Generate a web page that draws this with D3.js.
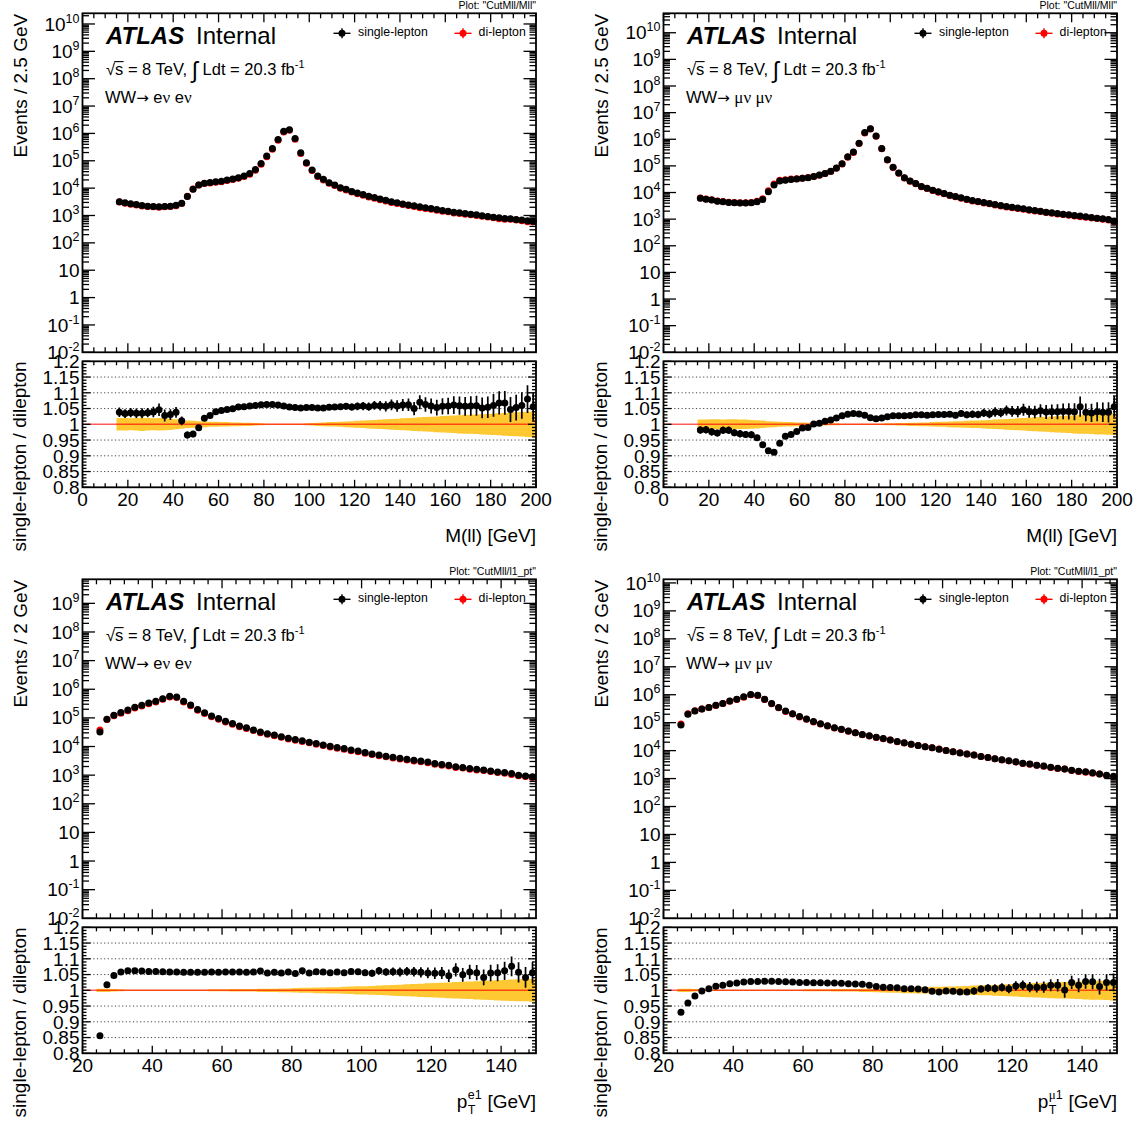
<!DOCTYPE html>
<html>
<head>
<meta charset="utf-8">
<script src="https://cdn.jsdelivr.net/npm/d3@7"></script>
<style>
  body { margin: 0; background: #fff; }
  svg text { font-family: "Liberation Sans", Arial, Helvetica, sans-serif; fill: #000; }
</style>
</head>
<body>
<svg id="c" width="1144" height="1124"></svg>
<script>
// ---------------- binning ----------------
const mllLow = 15, mllWidth = 2.5;   // M(ll): 2.5 GeV bins from 15 GeV
const ptLow = 24, ptWidth = 2;       // leading-lepton pT: 2 GeV bins from 24 GeV

// ---------------- WW -> e nu e nu, M(ll) ----------------
const eeMllSingle = [3200, 2900, 2700, 2500, 2300, 2200, 2150, 2100, 2150, 2200,
  2350, 2800, 4900, 9100, 13000, 15000, 16000, 17000, 18000, 20000,
  21500, 24000, 28000, 34000, 48000, 80000, 148000, 280000, 600000, 1200000,
  1370000, 650000, 195000, 85000, 46000, 28000, 21000, 15800, 13100, 10400,
  9100, 7600, 6600, 5800, 5000, 4500, 4000, 3600, 3200, 2900,
  2650, 2440, 2250, 2070, 1900, 1800, 1650, 1520, 1440, 1320,
  1250, 1180, 1120, 1060, 980, 920, 870, 820, 780, 760,
  715, 680, 640, 620];
const eeMllRatio = [1.038, 1.034, 1.037, 1.035, 1.035, 1.037, 1.039, 1.046, 1.028, 1.031,
  1.038, 1.011, 0.966, 0.969, 0.989, 1.019, 1.028, 1.040, 1.044, 1.047,
  1.049, 1.055, 1.056, 1.058, 1.060, 1.062, 1.063, 1.063, 1.061, 1.058,
  1.055, 1.053, 1.052, 1.053, 1.053, 1.052, 1.052, 1.054, 1.055, 1.056,
  1.057, 1.055, 1.057, 1.058, 1.056, 1.060, 1.059, 1.057, 1.062, 1.058,
  1.061, 1.062, 1.050, 1.070, 1.063, 1.058, 1.053, 1.057, 1.058, 1.061,
  1.059, 1.057, 1.058, 1.059, 1.052, 1.054, 1.060, 1.068, 1.068, 1.047,
  1.053, 1.060, 1.080, 1.056];
const eeMllRatioErr = [0.015, 0.014, 0.015, 0.015, 0.016, 0.015, 0.017, 0.020, 0.019, 0.017,
  0.017, 0.014, 0.011, 0.010, 0.007, 0.006, 0.005, 0.004, 0.004, 0.003,
  0.003, 0.003, 0.003, 0.002, 0.002, 0.002, 0.002, 0.002, 0.002, 0.002,
  0.002, 0.002, 0.003, 0.004, 0.005, 0.006, 0.007, 0.008, 0.008, 0.009,
  0.010, 0.011, 0.012, 0.013, 0.013, 0.014, 0.015, 0.016, 0.017, 0.018,
  0.019, 0.020, 0.021, 0.022, 0.023, 0.024, 0.025, 0.026, 0.026, 0.028,
  0.029, 0.030, 0.031, 0.032, 0.033, 0.034, 0.036, 0.037, 0.038, 0.040,
  0.041, 0.042, 0.044, 0.045];
const eeMllBand = [0.020, 0.020, 0.019, 0.020, 0.021, 0.020, 0.019, 0.020, 0.019, 0.018,
  0.016, 0.014, 0.012, 0.011, 0.010, 0.009, 0.008, 0.008, 0.007, 0.007,
  0.006, 0.006, 0.005, 0.005, 0.004, 0.003, 0.002, 0.002, 0.002, 0.002,
  0.002, 0.002, 0.002, 0.003, 0.004, 0.005, 0.006, 0.007, 0.007, 0.008,
  0.009, 0.010, 0.011, 0.012, 0.013, 0.014, 0.015, 0.016, 0.017, 0.018,
  0.019, 0.020, 0.021, 0.022, 0.023, 0.024, 0.025, 0.026, 0.027, 0.028,
  0.029, 0.030, 0.030, 0.031, 0.032, 0.033, 0.034, 0.035, 0.036, 0.037,
  0.038, 0.039, 0.040, 0.041];

// ---------------- WW -> mu nu mu nu, M(ll) ----------------
const mmMllSingle = [6100, 5600, 5200, 4700, 4500, 4200, 4100, 4000, 4000, 4100,
  4500, 5500, 10700, 19000, 27000, 29000, 31000, 32000, 34000, 36000,
  40000, 45000, 52000, 63000, 84000, 120000, 220000, 330000, 710000, 1780000,
  2500000, 1330000, 450000, 170000, 89000, 54000, 36000, 27000, 22000, 17000,
  14500, 12200, 10600, 9200, 7900, 7100, 6300, 5600, 5000, 4600,
  4200, 3900, 3550, 3250, 2980, 2800, 2600, 2440, 2240, 2100,
  2000, 1830, 1730, 1630, 1540, 1450, 1370, 1300, 1220, 1150,
  1090, 1030, 970, 850];
const mmMllRatio = [0.982, 0.983, 0.976, 0.972, 0.981, 0.981, 0.973, 0.970, 0.968, 0.967,
  0.957, 0.935, 0.916, 0.911, 0.940, 0.962, 0.968, 0.977, 0.988, 0.990,
  1.001, 1.003, 1.010, 1.014, 1.020, 1.027, 1.032, 1.034, 1.033, 1.029,
  1.021, 1.018, 1.020, 1.024, 1.027, 1.027, 1.027, 1.028, 1.030, 1.030,
  1.029, 1.030, 1.031, 1.031, 1.032, 1.029, 1.034, 1.030, 1.032, 1.031,
  1.036, 1.033, 1.039, 1.037, 1.044, 1.041, 1.040, 1.046, 1.040, 1.039,
  1.043, 1.039, 1.040, 1.040, 1.041, 1.041, 1.040, 1.056, 1.038, 1.036,
  1.040, 1.038, 1.038, 1.056];
const mmMllRatioErr = [0.012, 0.012, 0.012, 0.011, 0.012, 0.012, 0.011, 0.012, 0.011, 0.011,
  0.010, 0.009, 0.007, 0.006, 0.005, 0.004, 0.004, 0.003, 0.003, 0.003,
  0.002, 0.002, 0.002, 0.002, 0.002, 0.002, 0.002, 0.002, 0.002, 0.002,
  0.002, 0.002, 0.002, 0.003, 0.003, 0.004, 0.004, 0.005, 0.005, 0.006,
  0.006, 0.007, 0.008, 0.008, 0.009, 0.010, 0.010, 0.011, 0.012, 0.012,
  0.013, 0.014, 0.015, 0.015, 0.016, 0.017, 0.018, 0.019, 0.019, 0.020,
  0.021, 0.022, 0.023, 0.024, 0.025, 0.026, 0.027, 0.032, 0.028, 0.029,
  0.030, 0.031, 0.032, 0.034];
const mmMllBand = [0.015, 0.015, 0.016, 0.016, 0.015, 0.016, 0.016, 0.015, 0.015, 0.014,
  0.013, 0.012, 0.010, 0.009, 0.008, 0.007, 0.007, 0.006, 0.006, 0.005,
  0.005, 0.004, 0.004, 0.003, 0.003, 0.002, 0.002, 0.002, 0.002, 0.002,
  0.002, 0.002, 0.002, 0.003, 0.003, 0.004, 0.004, 0.005, 0.005, 0.006,
  0.006, 0.007, 0.008, 0.008, 0.009, 0.010, 0.010, 0.011, 0.012, 0.012,
  0.013, 0.014, 0.015, 0.016, 0.017, 0.018, 0.019, 0.020, 0.021, 0.022,
  0.023, 0.024, 0.025, 0.026, 0.027, 0.028, 0.029, 0.030, 0.030, 0.031,
  0.032, 0.032, 0.033, 0.034];

// ---------------- WW -> e nu e nu, leading-lepton pT ----------------
const eePtSingle = [32000, 89000, 123000, 154000, 187000, 237000, 277000, 330000, 380000, 470000,
  570000, 540000, 380000, 280000, 195000, 150000, 117000, 95000, 76000, 63000,
  52000, 45000, 38000, 32000, 28000, 25000, 22000, 19500, 17500, 15800,
  14200, 12700, 11400, 10200, 9200, 8500, 7600, 6900, 6200, 5500,
  5100, 4600, 4200, 3900, 3600, 3300, 3100, 2850, 2550, 2350,
  2200, 1950, 1850, 1700, 1600, 1500, 1400, 1300, 1240, 1140,
  1000, 930, 875];
const eePtRatio = [0.856, 1.018, 1.047, 1.058, 1.062, 1.062, 1.061, 1.060, 1.060, 1.059,
  1.058, 1.058, 1.057, 1.057, 1.057, 1.057, 1.058, 1.057, 1.058, 1.058,
  1.058, 1.057, 1.058, 1.061, 1.055, 1.057, 1.055, 1.058, 1.053, 1.062,
  1.055, 1.059, 1.058, 1.056, 1.058, 1.056, 1.060, 1.059, 1.056, 1.054,
  1.062, 1.058, 1.059, 1.058, 1.060, 1.059, 1.057, 1.055, 1.054, 1.055,
  1.046, 1.065, 1.049, 1.058, 1.056, 1.041, 1.055, 1.056, 1.062, 1.076,
  1.057, 1.041, 1.056];
const eePtRatioErr = [0.002, 0.002, 0.002, 0.002, 0.002, 0.002, 0.002, 0.002, 0.002, 0.002,
  0.002, 0.002, 0.002, 0.002, 0.002, 0.002, 0.002, 0.002, 0.002, 0.003,
  0.003, 0.003, 0.003, 0.003, 0.004, 0.004, 0.004, 0.005, 0.005, 0.005,
  0.006, 0.006, 0.007, 0.007, 0.008, 0.008, 0.009, 0.009, 0.010, 0.011,
  0.012, 0.012, 0.013, 0.014, 0.014, 0.015, 0.016, 0.017, 0.018, 0.019,
  0.020, 0.021, 0.022, 0.023, 0.024, 0.025, 0.026, 0.027, 0.029, 0.031,
  0.032, 0.033, 0.034];
const eePtBand = [0.005, 0.005, 0.004, 0.003, 0.002, 0.002, 0.002, 0.002, 0.002, 0.002,
  0.002, 0.002, 0.002, 0.002, 0.002, 0.002, 0.003, 0.003, 0.003, 0.004,
  0.004, 0.004, 0.004, 0.005, 0.005, 0.005, 0.006, 0.006, 0.007, 0.008,
  0.008, 0.009, 0.009, 0.010, 0.010, 0.011, 0.012, 0.013, 0.013, 0.014,
  0.015, 0.016, 0.017, 0.018, 0.019, 0.020, 0.021, 0.022, 0.023, 0.024,
  0.025, 0.026, 0.027, 0.028, 0.029, 0.030, 0.031, 0.032, 0.033, 0.034,
  0.035, 0.035, 0.036];

// ---------------- WW -> mu nu mu nu, leading-lepton pT ----------------
const mmPtSingle = [83000, 200000, 260000, 310000, 350000, 420000, 490000, 600000, 690000, 840000,
  1020000, 960000, 690000, 490000, 350000, 260000, 210000, 165000, 135000, 109000,
  92000, 78000, 66000, 58000, 50000, 44000, 38000, 34000, 30000, 27000,
  24000, 21000, 19000, 17000, 15400, 13700, 12600, 11300, 10000, 9100,
  8300, 7500, 6900, 6200, 5700, 5100, 4700, 4300, 4000, 3550,
  3300, 3000, 2800, 2550, 2350, 2200, 2000, 1830, 1740, 1600,
  1470, 1320, 1200];
const mmPtRatio = [0.930, 0.960, 0.982, 0.998, 1.005, 1.013, 1.016, 1.021, 1.023, 1.026,
  1.028, 1.028, 1.029, 1.029, 1.028, 1.027, 1.026, 1.025, 1.025, 1.024,
  1.024, 1.023, 1.023, 1.022, 1.021, 1.020, 1.019, 1.016, 1.012, 1.010,
  1.009, 1.008, 1.005, 1.005, 1.004, 1.002, 0.997, 0.995, 0.998, 0.997,
  0.995, 0.995, 0.998, 1.004, 1.007, 1.006, 1.009, 1.005, 1.014, 1.016,
  1.010, 1.010, 1.010, 1.016, 1.016, 1.001, 1.025, 1.016, 1.028, 1.027,
  1.012, 1.025, 1.025];
const mmPtRatioErr = [0.002, 0.002, 0.002, 0.002, 0.002, 0.002, 0.002, 0.002, 0.002, 0.002,
  0.002, 0.002, 0.002, 0.002, 0.002, 0.002, 0.002, 0.002, 0.002, 0.002,
  0.002, 0.002, 0.002, 0.003, 0.003, 0.003, 0.004, 0.004, 0.004, 0.005,
  0.005, 0.005, 0.006, 0.006, 0.007, 0.007, 0.008, 0.008, 0.009, 0.009,
  0.010, 0.010, 0.011, 0.011, 0.012, 0.013, 0.013, 0.014, 0.015, 0.015,
  0.016, 0.017, 0.018, 0.019, 0.020, 0.025, 0.021, 0.022, 0.023, 0.024,
  0.025, 0.026, 0.028];
const mmPtBand = [0.005, 0.005, 0.004, 0.003, 0.002, 0.002, 0.002, 0.002, 0.002, 0.002,
  0.002, 0.002, 0.002, 0.002, 0.002, 0.002, 0.002, 0.002, 0.003, 0.003,
  0.003, 0.003, 0.004, 0.004, 0.004, 0.004, 0.005, 0.005, 0.006, 0.007,
  0.008, 0.008, 0.009, 0.009, 0.010, 0.010, 0.011, 0.011, 0.012, 0.012,
  0.013, 0.014, 0.015, 0.016, 0.016, 0.017, 0.018, 0.019, 0.020, 0.021,
  0.022, 0.023, 0.024, 0.025, 0.026, 0.026, 0.027, 0.028, 0.029, 0.030,
  0.030, 0.031, 0.032];

// ---------------- axis labels ----------------
const ratioTickValues = [0.8, 0.85, 0.9, 0.95, 1, 1.05, 1.1, 1.15, 1.2];
const ratioTickLabels = ["0.8", "0.85", "0.9", "0.95", "1", "1.05", "1.1", "1.15", "1.2"];
const ratioGridValues = [0.85, 0.9, 0.95, 1.05, 1.1, 1.15];
const legendLabels = ["single-lepton", "di-lepton"];

// ---------------- layout ----------------
const COL_DX = 581, ROW_DY = 566;
const F = { left: 82.5, right: 536, mainTop: 13.3, mainBot: 352.3, ratTop: 361.3, ratBot: 487.3 };
const BAND = "#fec832", RED = "#ff0000";
const serif = '"Liberation Serif", "DejaVu Serif", serif';

const panels = [
  { col: 0, row: 0, plot: 'Plot: "CutMll/Mll"', yTitle: "Events / 2.5 GeV", chan: "e", xVar: "mll",
    xDomain: [0, 200], xMajor: 20, xMinor: 5, lo: mllLow, w: mllWidth, logTop: 10.39,
    single: eeMllSingle, ratio: eeMllRatio, err: eeMllRatioErr, band: eeMllBand },
  { col: 1, row: 0, plot: 'Plot: "CutMll/Mll"', yTitle: "Events / 2.5 GeV", chan: "mu", xVar: "mll",
    xDomain: [0, 200], xMajor: 20, xMinor: 5, lo: mllLow, w: mllWidth, logTop: 10.73,
    single: mmMllSingle, ratio: mmMllRatio, err: mmMllRatioErr, band: mmMllBand },
  { col: 0, row: 1, plot: 'Plot: "CutMll/l1_pt"', yTitle: "Events / 2 GeV", chan: "e", xVar: "pt",
    xDomain: [20, 150], xMajor: 20, xMinor: 4, lo: ptLow, w: ptWidth, logTop: 9.84,
    single: eePtSingle, ratio: eePtRatio, err: eePtRatioErr, band: eePtBand },
  { col: 1, row: 1, plot: 'Plot: "CutMll/l1_pt"', yTitle: "Events / 2 GeV", chan: "mu", xVar: "pt",
    xDomain: [20, 150], xMajor: 20, xMinor: 4, lo: ptLow, w: ptWidth, logTop: 10.13,
    single: mmPtSingle, ratio: mmPtRatio, err: mmPtRatioErr, band: mmPtBand }
];

const svg = d3.select("#c");

function line(g, x1, y1, x2, y2, w, col) {
  return g.append("line").attr("x1", x1).attr("y1", y1).attr("x2", x2).attr("y2", y2)
    .attr("stroke", col || "#000").attr("stroke-width", w || 1.3);
}

function drawPanel(p) {
  const g = svg.append("g").attr("transform", `translate(${p.col * COL_DX},${p.row * ROW_DY})`);
  const x = d3.scaleLinear().domain(p.xDomain).range([F.left, F.right]);
  const y = d3.scaleLog().domain([1e-2, Math.pow(10, p.logTop)]).range([F.mainBot, F.mainTop]);
  const yr = d3.scaleLinear().domain([0.8, 1.2]).range([F.ratBot, F.ratTop]);

  const centers = p.single.map((_, i) => p.lo + p.w * (i + 0.5));
  const dilep = p.single.map((v, i) => v / p.ratio[i]);

  // ---- plot name ----
  g.append("text").attr("x", F.right).attr("y", 8.8).attr("text-anchor", "end")
    .attr("font-size", 10.5).text(p.plot);

  // ---- main pad: markers ----
  const mg = g.append("g");
  mg.selectAll("circle.di").data(dilep).join("circle").attr("class", "di")
    .attr("cx", (d, i) => x(centers[i])).attr("cy", d => y(d)).attr("r", 3.5).attr("fill", RED);
  mg.selectAll("circle.sl").data(p.single).join("circle").attr("class", "sl")
    .attr("cx", (d, i) => x(centers[i])).attr("cy", d => y(d)).attr("r", 3.5).attr("fill", "#000");

  // ---- main pad: ticks ----
  const tg = g.append("g");
  const kLo = -2, kHi = Math.floor(p.logTop);
  for (let k = kLo; k <= kHi; k++) {
    for (let m = 1; m <= 9; m++) {
      const v = m * Math.pow(10, k);
      if (v < 1e-2 * 0.999 || v > Math.pow(10, p.logTop)) continue;
      const len = m === 1 ? 12.5 : 6.5;
      const yy = y(v);
      line(tg, F.left, yy, F.left + len, yy);
      line(tg, F.right - len, yy, F.right, yy);
    }
  }
  for (let v = p.xDomain[0]; v <= p.xDomain[1] + 1e-9; v += p.xMinor) {
    const maj = Math.abs(v / p.xMajor - Math.round(v / p.xMajor)) < 1e-6;
    const xx = x(v);
    const lm = maj ? 9 : 5;
    line(tg, xx, F.mainBot, xx, F.mainBot - lm);
    line(tg, xx, F.mainTop, xx, F.mainTop + lm);
    const lr = maj ? 7.5 : 4;
    line(tg, xx, F.ratBot, xx, F.ratBot - lr);
    line(tg, xx, F.ratTop, xx, F.ratTop + lr);
  }

  // ---- main pad: y tick labels ----
  for (let k = kLo; k <= kHi; k++) {
    const v = Math.pow(10, k);
    const t = g.append("text").attr("x", F.left - 3).attr("y", y(v) + 6.6)
      .attr("text-anchor", "end").attr("font-size", 19);
    if (k === 0) t.text("1");
    else if (k === 1) t.text("10");
    else {
      t.append("tspan").text("10");
      t.append("tspan").attr("font-size", 12.5).attr("dy", -8).text(String(k));
    }
  }

  // ---- main frame ----
  g.append("rect").attr("x", F.left).attr("y", F.mainTop).attr("width", F.right - F.left)
    .attr("height", F.mainBot - F.mainTop).attr("fill", "none").attr("stroke", "#000").attr("stroke-width", 1.8);

  // ---- main y title ----
  g.append("text").attr("transform", `translate(26.5,${F.mainTop + 0.5}) rotate(-90)`)
    .attr("text-anchor", "end").attr("font-size", 19).text(p.yTitle);

  // ---- ATLAS label ----
  g.append("text").attr("x", 106).attr("y", 44).attr("font-size", 24)
    .attr("font-weight", "bold").attr("font-style", "italic").text("ATLAS");
  g.append("text").attr("x", 196).attr("y", 44).attr("font-size", 24).text("Internal");

  // ---- energy / luminosity ----
  const lumi = g.append("text").attr("x", 106).attr("y", 75).attr("font-size", 16.5);
  lumi.append("tspan").text("√");
  lumi.append("tspan").text("s");
  lumi.append("tspan").text(" = 8 TeV, ");
  lumi.append("tspan").attr("font-size", 23).attr("dy", 2.5).text("∫");
  lumi.append("tspan").attr("dy", -2.5).text(" Ldt = 20.3 fb");
  lumi.append("tspan").attr("font-size", 11).attr("dy", -7).text("-1");
  const ln = lumi.node();
  const e0 = ln.getExtentOfChar(0), e1 = ln.getExtentOfChar(1);
  line(g, e0.x + e0.width - 0.8, e0.y + 1.6, e1.x + e1.width + 0.3, e0.y + 1.6, 1.1);

  // ---- channel ----
  const ch = g.append("text").attr("x", 105).attr("y", 103).attr("font-size", 16.5);
  ch.append("tspan").text("WW");
  ch.append("tspan").attr("font-family", '"DejaVu Sans", sans-serif').attr("font-size", 15).text("→");
  ch.append("tspan").text(" ");
  if (p.chan === "e") {
    ch.append("tspan").text("e");
    ch.append("tspan").attr("font-family", serif).attr("font-size", 17).text("ν");
    ch.append("tspan").text(" e");
    ch.append("tspan").attr("font-family", serif).attr("font-size", 17).text("ν");
  } else {
    ch.append("tspan").attr("font-family", serif).attr("font-size", 17).text("μν μν");
  }

  // ---- legend ----
  const legX = [342, 463], legText = [358, 478.6], legCol = ["#000", RED];
  legendLabels.forEach((lab, i) => {
    line(g, legX[i] - 8.5, 33.3, legX[i] + 8.5, 33.3, 1.4, legCol[i]);
    line(g, legX[i], 28.3, legX[i], 38.3, 1.4, legCol[i]);
    g.append("circle").attr("cx", legX[i]).attr("cy", 33.3).attr("r", 3.5).attr("fill", legCol[i]);
    g.append("text").attr("x", legText[i]).attr("y", 36).attr("font-size", 12.3).text(lab);
  });

  // ---- ratio pad ----
  const rg = g.append("g");
  const clipId = `clip${p.col}${p.row}`;
  g.append("clipPath").attr("id", clipId).append("rect")
    .attr("x", F.left).attr("y", F.ratTop).attr("width", F.right - F.left).attr("height", F.ratBot - F.ratTop);
  const inner = rg.append("g").attr("clip-path", `url(#${clipId})`);

  // uncertainty band (stepped per bin)
  const bandPts = [];
  p.band.forEach((b, i) => {
    const l = p.lo + p.w * i, h = l + p.w;
    bandPts.push({ x: l, b }, { x: h, b });
  });
  const area = d3.area().x(d => x(d.x)).y0(d => yr(1 - d.b)).y1(d => yr(1 + d.b));
  inner.append("path").attr("d", area(bandPts)).attr("fill", BAND);

  // grid
  ratioGridValues.forEach(v => {
    inner.append("line").attr("x1", F.left).attr("x2", F.right).attr("y1", yr(v)).attr("y2", yr(v))
      .attr("stroke", "#444").attr("stroke-width", 1).attr("stroke-dasharray", "1.2,2.4");
  });
  // unity line
  inner.append("line").attr("x1", F.left).attr("x2", F.right).attr("y1", yr(1)).attr("y2", yr(1))
    .attr("stroke", RED).attr("stroke-width", 1.6).attr("stroke-opacity", 0.65);

  // error bars + points
  inner.selectAll("line.eb").data(p.ratio).join("line").attr("class", "eb")
    .attr("x1", (d, i) => x(centers[i])).attr("x2", (d, i) => x(centers[i]))
    .attr("y1", (d, i) => yr(d - p.err[i])).attr("y2", (d, i) => yr(d + p.err[i]))
    .attr("stroke", "#000").attr("stroke-width", 1.7);
  inner.selectAll("circle.rp").data(p.ratio).join("circle").attr("class", "rp")
    .attr("cx", (d, i) => x(centers[i])).attr("cy", d => yr(d)).attr("r", 3.5).attr("fill", "#000");

  // ratio y ticks
  for (let j = 0; j <= 40; j++) {
    const v = 0.8 + j * 0.01;
    const len = j % 5 === 0 ? 8 : 4;
    line(rg, F.left, yr(v), F.left + len, yr(v));
    line(rg, F.right - len, yr(v), F.right, yr(v));
  }
  ratioTickValues.forEach((v, i) => {
    g.append("text").attr("x", F.left - 3).attr("y", yr(v) + 6.8).attr("text-anchor", "end")
      .attr("font-size", 19).text(ratioTickLabels[i]);
  });

  // ratio frame
  g.append("rect").attr("x", F.left).attr("y", F.ratTop).attr("width", F.right - F.left)
    .attr("height", F.ratBot - F.ratTop).attr("fill", "none").attr("stroke", "#000").attr("stroke-width", 1.8);

  // x tick labels
  for (let v = p.xDomain[0]; v <= p.xDomain[1] + 1e-9; v += p.xMajor) {
    g.append("text").attr("x", x(v)).attr("y", F.ratBot + 19).attr("text-anchor", "middle")
      .attr("font-size", 19).text(String(v));
  }

  // ratio y title
  g.append("text").attr("transform", `translate(25.5,${F.ratTop}) rotate(-90)`)
    .attr("text-anchor", "end").attr("font-size", 19).text("single-lepton / dilepton");

  // x title
  const xtY = 542;
  if (p.xVar === "mll") {
    g.append("text").attr("x", F.right).attr("y", xtY).attr("text-anchor", "end")
      .attr("font-size", 19).text("M(ll) [GeV]");
  } else {
    const unit = g.append("text").attr("x", F.right).attr("y", xtY).attr("text-anchor", "end")
      .attr("font-size", 19).attr("xml:space", "preserve").style("white-space", "pre").text(" [GeV]");
    const uw = unit.node().getComputedTextLength();
    const sup = g.append("text").attr("y", xtY - 9).attr("font-size", 12.5);
    if (p.chan === "e") sup.text("e1");
    else {
      sup.append("tspan").attr("font-family", serif).attr("font-size", 13).text("μ");
      sup.append("tspan").text("1");
    }
    const sub = g.append("text").attr("y", xtY + 5.5).attr("font-size", 12.5).text("T");
    const sw = Math.max(sup.node().getComputedTextLength(), sub.node().getComputedTextLength());
    const sx = F.right - uw - sw - 0.5;
    sup.attr("x", sx);
    sub.attr("x", sx);
    g.append("text").attr("x", sx - 0.5).attr("y", xtY).attr("text-anchor", "end")
      .attr("font-size", 19).text("p");
  }
}

panels.forEach(drawPanel);
</script>
</body>
</html>
